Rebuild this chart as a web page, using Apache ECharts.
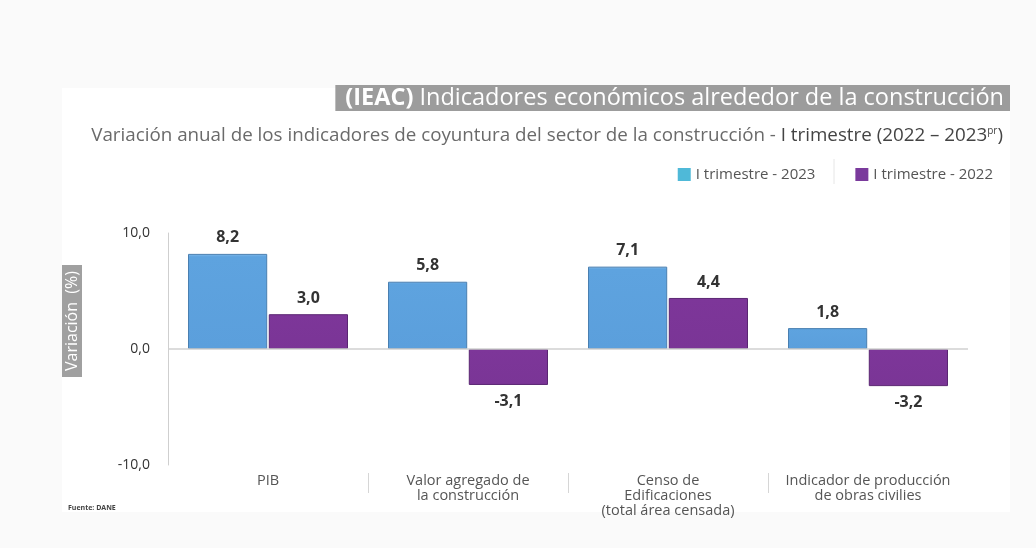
<!DOCTYPE html>
<html>
<head>
    <meta charset="utf-8">
    <script src="https://cdn.jsdelivr.net/npm/echarts@6/dist/echarts.min.js"></script>
    <style>
        html, body { margin: 0; padding: 0; background: #fafafa; }
    </style>
</head>
<body>
<div id="ieac" style="width: 1036px;height:548px;"></div>
<script type="text/javascript">
    var categories = ['PIB', 'Valor agregado de\nla construcción', 'Censo de\nEdificaciones\n(total área censada)', 'Indicador de producción\nde obras civilies'];
    var serie2023 = [8.2, 5.8, 7.1, 1.8];
    var serie2022 = [3.0, -3.1, 4.4, -3.2];
    var yTicks = [-10, 0, 10];
    var separadores = [1, 2, 3];

    var myChart = echarts.init(document.getElementById('ieac'));
    var font = '"Open Sans", "Noto Sans", sans-serif';

    function coma(v) {
        return v.toFixed(1).replace('.', ',');
    }

    // etiqueta arriba o abajo segun el signo
    function armar(arr) {
        return arr.map(function (v) {
            return { value: v, label: { position: v < 0 ? 'bottom' : 'top' } };
        });
    }

    var etiqueta = {
        show: true,
        distance: 8,
        fontFamily: font,
        fontWeight: 'bold',
        fontSize: 16,
        color: '#333',
        formatter: function (p) { return coma(p.value); }
    };

    var option = {
        backgroundColor: '#fafafa',
        graphic: [
            { type: 'rect', z: -10, shape: { x: 62, y: 88, width: 948, height: 424 }, style: { fill: '#ffffff' } },
            { type: 'line', shape: { x1: 834, y1: 159, x2: 834, y2: 184 }, style: { stroke: '#e6e6e6', lineWidth: 1 } },
            { type: 'text', x: 62, y: 377, rotation: Math.PI / 2,
              style: { text: 'Variación  (%)', fill: '#fff', backgroundColor: '#a0a0a0', padding: [2, 6, 2, 6],
                       font: '16px "Open Sans", sans-serif', verticalAlign: 'top' } },
            { type: 'text', x: 68, y: 504,
              style: { text: 'Fuente: DANE', fill: '#444', font: 'bold 7px "Open Sans", sans-serif' } }
        ],
        title: [{
            text: '{b|(IEAC)} Indicadores económicos alrededor de la construcción',
            right: 26,
            top: 85,
            backgroundColor: '#9c9c9c',
            padding: [1, 6, 1, 10],
            textStyle: {
                fontFamily: font, fontSize: 23.5, fontWeight: 'normal', color: '#fff',
                rich: { b: { fontFamily: font, fontSize: 23.5, fontWeight: 'bold', color: '#fff' } }
            }
        }, {
            text: 'Variación anual de los indicadores de coyuntura del sector de la construcción - {d|I trimestre (2022 – 2023}{s|pr}{d|)}',
            right: 28,
            top: 121,
            textStyle: {
                fontFamily: font, fontSize: 18.8, fontWeight: 'normal', color: '#6a6a6a',
                rich: {
                    d: { fontFamily: font, fontSize: 18.8, color: '#444' },
                    s: { fontFamily: font, fontSize: 10, color: '#444', verticalAlign: 'top', padding: [0, 0, 8, 0] }
                }
            }
        }],
        legend: {
            right: 38,
            top: 162,
            itemWidth: 13,
            itemHeight: 13,
            itemGap: 40,
            icon: 'rect',
            textStyle: { fontFamily: font, fontSize: 15, color: '#555' },
            data: [
                { name: 'I trimestre - 2023', itemStyle: { color: '#4fb9d8', borderWidth: 0 } },
                { name: 'I trimestre - 2022', itemStyle: { color: '#7a3a9c', borderWidth: 0 } }
            ]
        },
        grid: { left: 168, right: 68, top: 233, bottom: 83 },
        xAxis: [{
            type: 'category',
            data: categories,
            offset: 8,
            axisLine: { show: false, onZero: false },
            axisTick: { show: false },
            axisLabel: {
                margin: 0,
                fontFamily: font,
                fontSize: 14.5,
                lineHeight: 15,
                color: '#555',
                interval: 0
            }
        }, {
            // eje auxiliar solo para las lineas separadoras entre categorias
            type: 'value',
            position: 'bottom',
            min: 0,
            max: categories.length,
            offset: 8,
            splitLine: { show: false },
            axisLine: { show: false, onZero: false },
            axisLabel: { show: false },
            axisTick: {
                show: true,
                length: 20,
                customValues: separadores,
                lineStyle: { color: '#d6d6d6' }
            }
        }],
        yAxis: {
            type: 'value',
            min: -10,
            max: 10,
            interval: 10,
            splitLine: { show: false },
            axisTick: { show: false },
            axisLine: { show: true, lineStyle: { color: '#cfcfcf' } },
            axisLabel: {
                margin: 18,
                fontFamily: font,
                fontSize: 14,
                color: '#333',
                customValues: yTicks,
                formatter: function (v) { return coma(v); }
            }
        },
        series: [{
            name: 'I trimestre - 2023',
            type: 'bar',
            barGap: '2%',
            barCategoryGap: '20%',
            data: armar(serie2023),
            itemStyle: {
                color: new echarts.graphic.LinearGradient(0, 0, 0, 1, [
                    { offset: 0, color: '#86bdec' }, { offset: 0.03, color: '#5ea3df' }, { offset: 1, color: '#5b9fdc' }
                ]),
                borderColor: '#4a7fb0',
                borderWidth: 1
            },
            label: etiqueta,
            markLine: {
                silent: true,
                symbol: 'none',
                label: { show: false },
                lineStyle: { color: '#d0d0d0', type: 'solid', width: 1.5 },
                data: [{ yAxis: 0 }]
            }
        }, {
            name: 'I trimestre - 2022',
            type: 'bar',
            data: armar(serie2022),
            itemStyle: {
                color: new echarts.graphic.LinearGradient(0, 0, 0, 1, [
                    { offset: 0, color: '#a35cc2' }, { offset: 0.03, color: '#7d3699' }, { offset: 1, color: '#7a3596' }
                ]),
                borderColor: '#5a2672',
                borderWidth: 1
            },
            label: etiqueta
        }]
    };

    myChart.setOption(option);
</script>
</body>
</html>
